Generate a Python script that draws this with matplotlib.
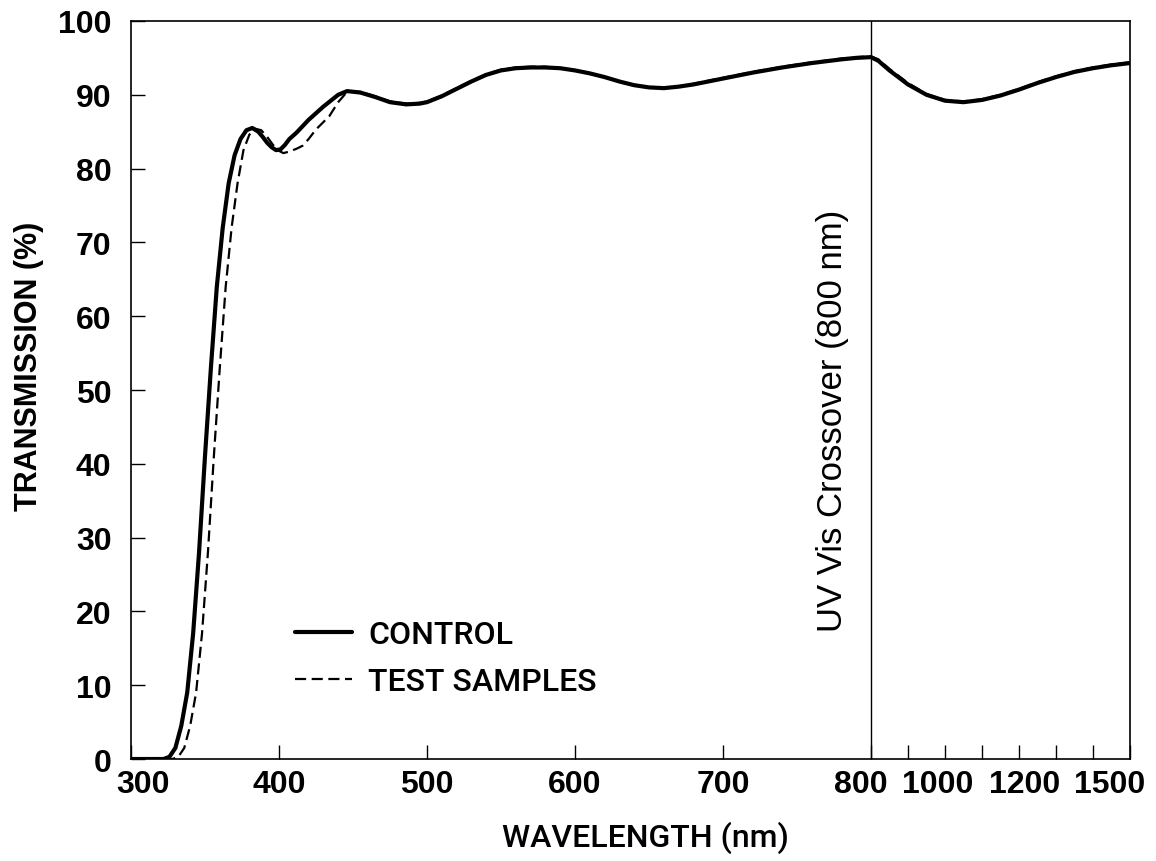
import numpy as np
import matplotlib
matplotlib.use('Agg')
import matplotlib.pyplot as plt
from matplotlib.transforms import ScaledTranslation

plt.rcParams['font.family'] = ['Liberation Sans', 'DejaVu Sans']

# 数据
control_wl = [300, 322, 326, 330, 334, 338, 342, 346, 350, 354, 358, 362, 366, 370, 374,
              378, 382, 386, 389, 392, 395, 398, 401, 404, 407, 412, 420, 430, 440, 446,
              455, 465, 475, 486, 495, 500, 510, 520, 530, 540, 550, 560, 570, 580, 590,
              600, 610, 620, 630, 640, 650, 660, 670, 680, 690, 700, 720, 740, 760, 780,
              790, 800, 820, 850, 900, 950, 1000, 1050, 1100, 1150, 1200, 1250, 1300, 1350, 1400,
              1450, 1500]
control_t = [0, 0, 0.3, 1.5, 4.5, 9, 17, 28, 41, 53, 64, 72, 78, 81.8, 84,
             85.2, 85.5, 85.0, 84.3, 83.5, 82.9, 82.5, 82.6, 83.2, 84.0, 84.9, 86.6, 88.4, 90.0, 90.5,
             90.3, 89.7, 89.0, 88.7, 88.8, 89.0, 89.8, 90.8, 91.8, 92.7, 93.3, 93.6, 93.7, 93.7, 93.6,
             93.3, 92.9, 92.4, 91.8, 91.3, 91.0, 90.9, 91.1, 91.4, 91.8, 92.2, 93.0, 93.7, 94.3, 94.8,
             95.0, 95.1, 94.6, 93.3, 91.4, 90.0, 89.2, 89.0, 89.3, 89.9, 90.7, 91.6, 92.4, 93.1, 93.6,
             94.0, 94.3]

test_wl = [300, 328, 332, 336, 340, 344, 348, 352, 356, 360, 364, 368, 372, 376, 380,
           384, 388, 392, 396, 400, 403, 407, 412, 416, 420, 425, 430, 434, 440, 446,
           455, 465, 475, 486, 495, 500, 510, 520, 530, 540, 550, 560, 570, 580, 590,
           600, 610, 620, 630, 640, 650, 660, 670, 680, 690, 700, 720, 740, 760, 780,
           790, 800, 820, 850, 900, 950, 1000, 1050, 1100, 1150, 1200, 1250, 1300, 1350, 1400,
           1450, 1500]
test_t = [0, 0, 0.3, 1.5, 4.5, 9, 17, 28, 41, 53, 64, 72, 78, 82.5, 84.6,
          85.4, 85.2, 84.3, 83.2, 82.4, 82.1, 82.3, 82.7, 83.1, 84.0, 85.3, 86.3, 87.1, 89.0, 90.4,
          90.4, 89.8, 89.1, 88.8, 88.9, 89.1, 89.9, 90.9, 91.9, 92.8, 93.4, 93.7, 93.8, 93.8, 93.6,
          93.3, 92.9, 92.4, 91.8, 91.3, 91.0, 90.9, 91.1, 91.5, 91.9, 92.3, 93.1, 93.8, 94.4, 94.9,
          95.1, 95.2, 94.8, 93.5, 91.6, 90.1, 89.3, 89.1, 89.4, 90.0, 90.8, 91.7, 92.5, 93.2, 93.7,
          94.1, 94.4]

major_ticks = [300, 400, 500, 600, 700, 800, 1000, 1200, 1500]
minor_ticks = [900, 1100, 1300, 1400]
y_ticks = [0, 10, 20, 30, 40, 50, 60, 70, 80, 90, 100]
crossover = 800


# 800 nm 以后的横轴压缩为四分之一
def fwd(x):
    x = np.asarray(x, dtype=float)
    return np.where(x <= 800, x, 800 + (x - 800) / 4)


def inv(u):
    u = np.asarray(u, dtype=float)
    return np.where(u <= 800, u, 800 + (u - 800) * 4)


fig = plt.figure(figsize=(11.56, 8.62), dpi=100)
ax = fig.add_axes([0.1133, 0.1183, 0.8642, 0.8562])
ax.set_xscale('function', functions=(fwd, inv))

ax.plot(test_wl, test_t, color='black', lw=1.6, ls=(0, (5, 2.5)), label='TEST SAMPLES',
        dash_joinstyle='round')
ax.plot(control_wl, control_t, color='black', lw=3.0, label='CONTROL',
        solid_joinstyle='round', solid_capstyle='round')

ax.axvline(crossover, color='black', lw=1.0)
ax.text(774, 46, 'UV Vis Crossover (800 nm)', rotation=90, ha='center', va='center',
        fontsize=25)

ax.set_xlim(300, 1500)
ax.set_ylim(0, 100)
ax.set_xticks(major_ticks)
ax.set_xticklabels([str(t) for t in major_ticks])
ax.set_xticks(minor_ticks, minor=True)
ax.set_yticks(y_ticks)

ax.tick_params(which='both', direction='in', length=10, width=1.0)
ax.tick_params(axis='x', pad=7, labelsize=23)
ax.tick_params(axis='y', pad=14, labelsize=23)
for lab in ax.get_xticklabels() + ax.get_yticklabels():
    lab.set_fontweight('bold')

# 挤在一起的刻度标签稍微挪一下
shift = {300: 12, 800: -10, 1000: -7, 1200: 6, 1500: -20}
for t, lab in zip(major_ticks, ax.get_xticklabels()):
    if t in shift:
        lab.set_transform(lab.get_transform() + ScaledTranslation(shift[t] / 100, 0, fig.dpi_scale_trans))

for s in ax.spines.values():
    s.set_linewidth(1.2)

ax.set_xlabel('WAVELENGTH (nm)', fontsize=23,
              family=['Roboto', 'DejaVu Sans'], fontweight='medium')
ax.xaxis.set_label_coords(0.515, -0.106)
ax.xaxis.label.set_va('center')
ax.set_ylabel('TRANSMISSION (%)', fontsize=22, fontweight='bold')
ax.yaxis.set_label_coords(-0.087, 0.533)

handles, labels = ax.get_legend_handles_labels()
ax.legend(handles[::-1], labels[::-1], loc='upper left', bbox_to_anchor=(0.164, 0.188),
          frameon=False, handlelength=1.8, handletextpad=0.5, labelspacing=0.55,
          borderpad=0, borderaxespad=0,
          prop={'family': ['Roboto', 'DejaVu Sans'], 'weight': 'medium', 'size': 23})

fig.savefig('out.png', dpi=100)
